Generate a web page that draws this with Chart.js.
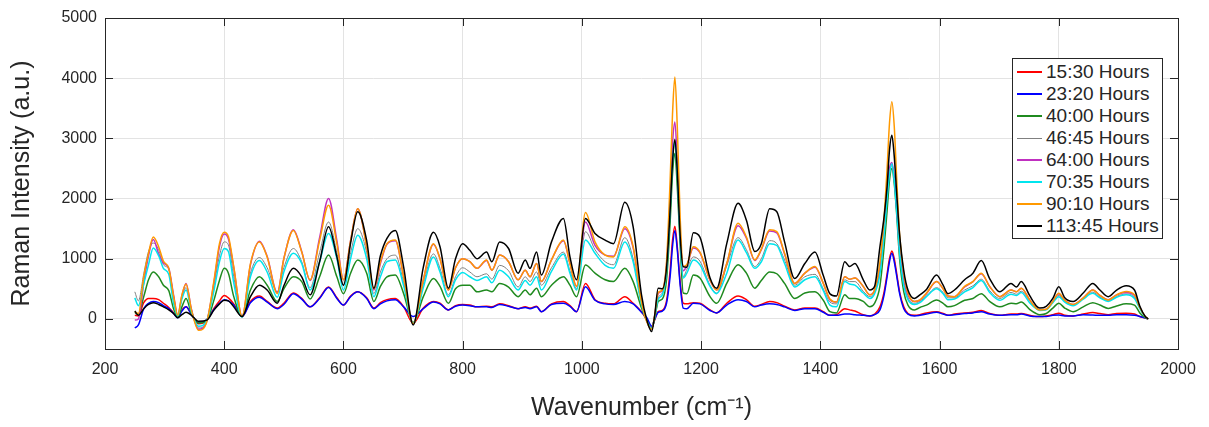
<!DOCTYPE html>
<html>
<head>
<meta charset="utf-8">
<script src="https://cdn.jsdelivr.net/npm/chart.js@4/dist/chart.umd.min.js"></script>
<style>
html,body{margin:0;padding:0;background:#fff;}
#wrap{position:relative;width:1209px;height:427px;overflow:hidden;}
#c{position:absolute;left:0;top:0;}
#legend{position:absolute;left:1012px;top:58px;width:151px;height:181px;border:1px solid #262626;background:#fff;box-sizing:border-box;font-family:"Liberation Sans",Arial,sans-serif;font-size:19px;color:#262626;padding-top:2px;}
.row{height:22px;display:flex;align-items:center;white-space:nowrap;}
.sw{display:block;flex:0 0 25px;width:25px;height:2px;margin-left:4px;margin-right:4px;}
</style>
</head>
<body>
<div id="wrap">
<canvas id="c" width="1209" height="427"></canvas>
<div id="legend"></div>
</div>
<script>
const wavenumbers = [250,256,265,273,281,290,298,307,315,322,
329,336,345,357,371,383,392,400,407,416,
430,444,459,472,489,500,516,530,544,560,
575,589,600,612,624,639,651,662,673,687,
701,717,734,751,762,776,788,800,812,824,
840,849,862,877,893,905,913,924,932,949,
969,980,991,1006,1022,1039,1053,1072,1086,1100,
1109,1117,1122,1128,1135,1142,1148,1152,1156,1160,
1165,1170,1176,1187,1198,1215,1226,1243,1262,1276,
1290,1301,1315,1327,1340,1357,1374,1391,1405,1416,
1427,1441,1449,1458,1472,1483,1491,1500,1507,1512,
1516,1520,1524,1528,1533,1540,1547,1558,1567,1578,
1595,1606,1614,1625,1642,1656,1670,1684,1701,1720,
1729,1737,1751,1762,1768,1779,1790,1800,1810,1824,
1841,1857,1869,1883,1897,1913,1927,1936,1945,1950];

const h1530 = [60,50,270,340,340,320,260,190,100,30,
150,200,80,-80,-20,180,300,390,350,250,
40,290,380,290,180,260,430,340,200,350,
530,350,230,380,450,350,180,270,320,340,
200,-70,180,290,260,150,220,240,230,200,
210,200,250,220,170,200,180,210,120,250,
290,220,120,590,320,260,250,370,260,120,
-20,-150,-20,120,140,300,800,1300,1540,1200,
600,260,250,270,260,150,100,260,380,320,
210,240,290,270,210,150,180,180,120,60,
70,170,150,130,70,50,80,200,450,750,
1000,1130,1000,760,450,200,90,60,70,100,
120,90,60,80,100,110,140,90,60,80,
80,90,60,40,40,50,70,95,60,50,
80,105,90,70,90,95,80,40,15,0];

const h2320 = [-150,-100,170,260,290,270,220,170,90,20,
130,200,70,-60,-10,160,260,320,300,230,
40,270,360,280,170,240,420,330,200,340,
520,340,230,370,450,340,170,250,300,320,
200,40,170,280,250,150,210,230,220,200,
200,190,240,210,170,190,170,200,120,240,
260,210,120,535,310,250,240,290,250,110,
20,-120,-10,110,130,260,700,1200,1470,1150,
550,180,170,260,250,140,100,230,320,290,
200,230,250,240,200,140,170,170,110,60,
60,80,80,70,60,50,70,150,400,700,
950,1090,950,720,420,170,80,50,60,80,
110,80,60,70,90,100,120,80,60,70,
70,80,50,40,40,40,60,65,50,50,
70,65,60,60,70,70,60,40,15,0];

const h4000 = [110,80,370,650,780,700,560,470,170,30,
200,340,90,-70,-20,320,640,840,760,370,
40,480,700,560,290,500,700,620,330,700,
1060,700,420,760,980,760,290,540,700,730,
420,-60,370,670,540,260,500,560,560,450,
480,450,590,530,370,480,400,510,370,560,
700,560,370,895,760,650,620,840,620,180,
-30,-160,0,290,330,650,1600,2400,2750,2200,
1200,430,420,730,680,370,260,590,900,760,
510,640,780,750,590,340,430,450,310,120,
100,400,340,340,290,200,260,550,1200,1800,
2300,2500,2250,1750,1000,450,230,150,190,230,
315,260,200,220,310,340,420,290,200,260,
250,280,160,90,70,90,180,260,180,120,
200,270,230,175,215,250,230,100,20,0];

const h4645 = [450,300,750,1120,1260,1150,900,820,380,60,
350,520,150,-150,-20,560,1050,1280,1230,700,
40,760,1020,850,450,850,1170,950,520,1100,
1610,1100,560,1100,1500,1100,420,780,1000,1060,
600,-80,580,1080,840,400,700,850,780,700,
750,660,890,800,530,700,620,780,560,850,
1110,800,500,1450,1150,950,900,1350,1000,250,
-40,-170,30,350,440,800,1800,2600,2950,2400,
1300,700,820,1030,960,560,430,880,1350,1150,
870,1000,1300,1250,980,560,700,740,500,280,
250,650,620,620,460,370,450,800,1400,2000,
2400,2550,2300,1800,1100,600,350,260,290,380,
520,440,350,350,480,550,660,470,340,440,
410,460,300,175,145,155,280,390,295,230,
340,445,365,300,375,415,360,180,30,0];

const h6400 = [-20,0,600,1050,1320,1080,930,840,400,60,
380,590,160,-170,-30,620,1200,1410,1330,850,
40,900,1290,1040,440,1000,1480,1120,640,1350,
2000,1300,650,1300,1830,1200,480,920,1240,1300,
700,-80,650,1240,1000,480,850,1000,950,840,
970,810,1060,950,650,810,700,920,620,980,
1300,920,540,1610,1220,1060,1040,1500,1180,300,
-40,-170,40,420,470,900,2000,2900,3270,2600,
1400,800,880,1180,1100,640,480,920,1550,1340,
970,1150,1460,1430,1080,590,760,860,590,320,
280,700,660,680,540,400,480,850,1500,2150,
2500,2600,2350,1850,1150,650,400,290,310,420,
620,500,380,370,530,620,750,540,370,480,
450,510,320,180,150,160,290,420,310,240,
350,480,390,320,400,440,390,190,40,0];

const h7035 = [350,220,580,900,1180,1050,840,740,260,50,
330,480,120,-120,-20,480,950,1170,1120,600,
30,700,970,780,360,780,1090,920,480,950,
1420,1000,480,1000,1390,1000,370,700,950,980,
550,-70,520,1030,780,370,650,770,700,640,
700,600,810,700,480,640,560,700,480,790,
1080,760,480,1310,1090,890,840,1280,950,230,
-30,-160,20,330,400,800,1800,2600,2950,2400,
1300,680,760,980,900,540,420,760,1310,1100,
840,950,1250,1220,920,530,650,700,470,230,
200,620,580,560,430,340,420,750,1400,2000,
2400,2580,2300,1800,1100,550,320,240,270,370,
500,420,320,330,450,520,640,440,310,410,
390,440,270,170,140,150,270,370,280,220,
330,425,350,290,360,400,340,170,30,0];

const h9010 = [120,90,700,1090,1360,1200,960,840,380,60,
400,580,150,-190,-40,650,1250,1440,1370,870,
40,920,1280,1030,420,1000,1470,1110,650,1300,
1890,1250,650,1300,1830,1200,500,950,1250,1310,
700,-80,650,1250,1000,480,850,1000,950,840,
980,810,1060,950,650,810,700,920,620,980,
1310,920,540,1770,1280,1060,1030,1530,1200,280,
-50,-170,50,440,480,950,2300,3400,4020,3200,
1650,870,900,1200,1110,650,480,920,1590,1360,
980,1160,1480,1450,1090,590,760,870,590,330,
280,700,660,680,540,400,480,950,1700,2500,
3250,3610,3200,2350,1400,750,430,290,315,430,
620,500,380,370,540,620,760,540,370,480,
450,510,320,180,150,160,290,425,310,240,
345,480,390,315,400,455,400,190,40,0];

const h11345 = [130,60,170,240,270,240,200,150,90,20,
70,110,60,-40,-20,150,250,310,300,200,
40,370,560,480,260,550,840,700,400,950,
1530,1030,560,1260,1780,1300,510,1050,1340,1470,
860,-100,860,1440,1200,510,1000,1250,1140,1000,
1110,950,1280,1170,760,980,840,1110,730,1280,
1670,1030,650,1670,1420,1310,1250,1940,1530,400,
-20,-210,50,510,500,850,1800,2600,2980,2450,
1350,870,860,1430,1360,680,510,1250,1920,1640,
1120,1250,1830,1780,1280,670,920,1110,720,420,
380,950,870,920,650,480,540,1200,1700,2200,
2800,3050,2700,2100,1400,800,480,340,400,490,
730,560,420,480,650,760,970,670,450,590,
530,620,390,220,180,210,340,535,350,290,
430,590,480,370,480,550,480,210,40,0];

const seriesLabels = ['15:30 Hours','23:20 Hours','40:00 Hours','46:45 Hours','64:00 Hours','70:35 Hours','90:10 Hours','113:45 Hours'];
const seriesValues = [h1530,h2320,h4000,h4645,h6400,h7035,h9010,h11345];
const seriesColors = ['#ff0000','#0000ff','#1f8a1f','#808080','#c030c0','#00e5ee','#ff9900','#000000'];
const seriesWidths = [1.5,1.5,1.5,1,1.5,1.5,1.5,1.5];
const xTicks = [200,400,600,800,1000,1200,1400,1600,1800,2000];
const yTicks = [0,1000,2000,3000,4000,5000];

const FONT = '"Liberation Sans", Arial, Helvetica, sans-serif';
const TXT = '#262626';

const datasets = seriesValues.map((vals, i) => ({
  label: seriesLabels[i],
  data: wavenumbers.map((x, j) => ({x: x, y: vals[j]})),
  borderColor: seriesColors[i],
  backgroundColor: seriesColors[i],
  borderWidth: seriesWidths[i],
  pointRadius: 0,
  fill: false,
  cubicInterpolationMode: 'monotone',
  order: seriesValues.length - 1 - i
}));

const frame = {
  id: 'frame',
  afterDatasetsDraw(chart) {
    const {ctx, chartArea: a, scales} = chart;
    ctx.save();
    ctx.strokeStyle = TXT;
    ctx.lineWidth = 1;
    ctx.beginPath();
    const L = 8;
    xTicks.forEach(v => {
      const px = Math.round(scales.x.getPixelForValue(v)) + 0.5;
      ctx.moveTo(px, a.bottom); ctx.lineTo(px, a.bottom - L);
      ctx.moveTo(px, a.top); ctx.lineTo(px, a.top + L);
    });
    yTicks.forEach(v => {
      const py = Math.round(scales.y.getPixelForValue(v)) + 0.5;
      ctx.moveTo(a.left, py); ctx.lineTo(a.left + L, py);
      ctx.moveTo(a.right, py); ctx.lineTo(a.right - L, py);
    });
    ctx.stroke();
    ctx.strokeRect(Math.round(a.left) + 0.5, Math.round(a.top) + 0.5, Math.round(a.right - a.left), Math.round(a.bottom - a.top));
    ctx.restore();
  }
};

new Chart(document.getElementById('c'), {
  type: 'line',
  data: {datasets},
  options: {
    responsive: false,
    animation: false,
    devicePixelRatio: 1,
    layout: {padding: {top: 18, right: 31, left: 0, bottom: 0}},
    plugins: {legend: {display: false}, tooltip: {enabled: false}},
    scales: {
      x: {
        type: 'linear', min: 200, max: 2000,
        afterBuildTicks: s => { s.ticks = xTicks.map(v => ({value: v})); },
        afterFit: s => { s.height = 78; },
        grid: {color: '#e3e3e3', drawTicks: false},
        border: {display: false},
        ticks: {font: {family: FONT, size: 16}, color: TXT, padding: 11, maxRotation: 0, callback: v => String(v)},
        title: {display: true, text: 'Wavenumber (cm\u207B\u00B9)', font: {family: FONT, size: 25}, color: TXT, padding: {top: 4}}
      },
      y: {
        type: 'linear', min: -500, max: 5000,
        afterBuildTicks: s => { s.ticks = yTicks.map(v => ({value: v})); },
        afterFit: s => { s.width = 105; },
        grid: {color: '#e3e3e3', drawTicks: false},
        border: {display: false},
        ticks: {font: {family: FONT, size: 16}, color: TXT, padding: 8, callback: v => String(v)},
        title: {display: true, text: 'Raman Intensity (a.u.)', font: {family: FONT, size: 25}, color: TXT, padding: {top: 7, bottom: 4}}
      }
    }
  },
  plugins: [frame]
});

const lg = document.getElementById('legend');
seriesLabels.forEach((lab, i) => {
  const row = document.createElement('div');
  row.className = 'row';
  const sw = document.createElement('div');
  sw.className = 'sw';
  sw.style.backgroundColor = seriesColors[i];
  sw.style.height = (seriesWidths[i] < 1.5 ? 1 : 2) + 'px';
  const t = document.createElement('span');
  t.textContent = lab;
  row.appendChild(sw); row.appendChild(t);
  lg.appendChild(row);
});
</script>
</body>
</html>
